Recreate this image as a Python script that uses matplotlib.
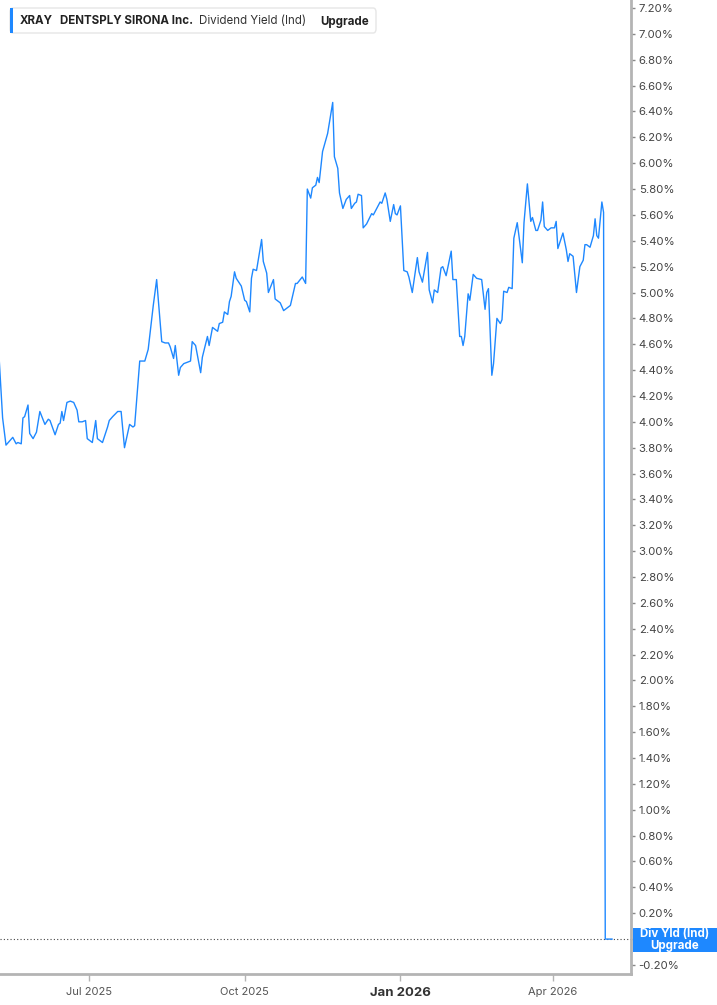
import pandas as pd
import matplotlib.pyplot as plt
import matplotlib.transforms as mtransforms
from matplotlib.patches import FancyBboxPatch, Rectangle
import numpy as np

plt.rcParams['font.family'] = ['Inter', 'DejaVu Sans']

# --- Data: XRAY indicated dividend yield (%) ---
dates = [
    '2025-05-09', '2025-05-11', '2025-05-13', '2025-05-17', '2025-05-19', '2025-05-20',
    '2025-05-22', '2025-05-23', '2025-05-24', '2025-05-26', '2025-05-27', '2025-05-29',
    '2025-05-31', '2025-06-02', '2025-06-05', '2025-06-07', '2025-06-08', '2025-06-11',
    '2025-06-13', '2025-06-14', '2025-06-15', '2025-06-16', '2025-06-18', '2025-06-20',
    '2025-06-22', '2025-06-24', '2025-06-25', '2025-06-27', '2025-06-29', '2025-06-30',
    '2025-07-03', '2025-07-05', '2025-07-06', '2025-07-09', '2025-07-12', '2025-07-13',
    '2025-07-15', '2025-07-18', '2025-07-20', '2025-07-22', '2025-07-25', '2025-07-27',
    '2025-07-28', '2025-07-31', '2025-08-03', '2025-08-05', '2025-08-07', '2025-08-08',
    '2025-08-10', '2025-08-13', '2025-08-15', '2025-08-17', '2025-08-18', '2025-08-20',
    '2025-08-21', '2025-08-23', '2025-08-24', '2025-08-26', '2025-08-30', '2025-08-31',
    '2025-09-02', '2025-09-05', '2025-09-06', '2025-09-09', '2025-09-10', '2025-09-12',
    '2025-09-13', '2025-09-15', '2025-09-16', '2025-09-18', '2025-09-19', '2025-09-21',
    '2025-09-22', '2025-09-23', '2025-09-25', '2025-09-26', '2025-09-29', '2025-10-01',
    '2025-10-02', '2025-10-04', '2025-10-05', '2025-10-06', '2025-10-08', '2025-10-11',
    '2025-10-12', '2025-10-14', '2025-10-15', '2025-10-18', '2025-10-19', '2025-10-22',
    '2025-10-24', '2025-10-26', '2025-10-28', '2025-10-31', '2025-11-01', '2025-11-04',
    '2025-11-06', '2025-11-07', '2025-11-09', '2025-11-10', '2025-11-12', '2025-11-13',
    '2025-11-14', '2025-11-16', '2025-11-19', '2025-11-22', '2025-11-23', '2025-11-25',
    '2025-11-26', '2025-11-28', '2025-11-30', '2025-12-02', '2025-12-03', '2025-12-05',
    '2025-12-06', '2025-12-07', '2025-12-09', '2025-12-10', '2025-12-12', '2025-12-15',
    '2025-12-16', '2025-12-18', '2025-12-20', '2025-12-21', '2025-12-23', '2025-12-24',
    '2025-12-26', '2025-12-28', '2025-12-29', '2025-12-30', '2026-01-01', '2026-01-03',
    '2026-01-05', '2026-01-06', '2026-01-08', '2026-01-11', '2026-01-12', '2026-01-14',
    '2026-01-17', '2026-01-18', '2026-01-20', '2026-01-21', '2026-01-23', '2026-01-25',
    '2026-01-26', '2026-01-28', '2026-01-31', '2026-02-01', '2026-02-03', '2026-02-05',
    '2026-02-06', '2026-02-07', '2026-02-08', '2026-02-10', '2026-02-11', '2026-02-13',
    '2026-02-15', '2026-02-18', '2026-02-20', '2026-02-21', '2026-02-22', '2026-02-24',
    '2026-02-25', '2026-02-27', '2026-03-01', '2026-03-02', '2026-03-03', '2026-03-05',
    '2026-03-06', '2026-03-08', '2026-03-09', '2026-03-11', '2026-03-12', '2026-03-14',
    '2026-03-15', '2026-03-16', '2026-03-17', '2026-03-19', '2026-03-20', '2026-03-22',
    '2026-03-23', '2026-03-25', '2026-03-26', '2026-03-27', '2026-03-29', '2026-03-31',
    '2026-04-02', '2026-04-03', '2026-04-04', '2026-04-07', '2026-04-09', '2026-04-10',
    '2026-04-11', '2026-04-13', '2026-04-15', '2026-04-17', '2026-04-19', '2026-04-20',
    '2026-04-21', '2026-04-23', '2026-04-25', '2026-04-26', '2026-04-27', '2026-04-28',
    '2026-04-30', '2026-05-01', '2026-05-02', '2026-05-06',
]
yield_pct = [
    4.48, 4.03, 3.82, 3.88, 3.83, 3.84,
    3.83, 4.03, 4.04, 4.13, 3.91, 3.87,
    3.92, 4.08, 3.98, 4.02, 4.01, 3.90,
    3.98, 3.99, 4.08, 4.01, 4.15, 4.16,
    4.15, 4.09, 4.00, 4.00, 4.01, 3.87,
    3.84, 4.01, 3.87, 3.84, 3.96, 4.01,
    4.04, 4.08, 4.08, 3.80, 3.98, 3.96,
    3.97, 4.47, 4.47, 4.56, 4.79, 4.90,
    5.10, 4.62, 4.61, 4.61, 4.58, 4.49,
    4.59, 4.36, 4.42, 4.45, 4.47, 4.62,
    4.59, 4.38, 4.50, 4.66, 4.59, 4.73,
    4.72, 4.70, 4.76, 4.77, 4.85, 4.83,
    4.93, 4.97, 5.16, 5.11, 5.05, 4.94,
    4.93, 4.85, 5.11, 5.18, 5.17, 5.41,
    5.24, 5.15, 5.00, 5.10, 4.95, 4.92,
    4.86, 4.88, 4.90, 5.07, 5.07, 5.12,
    5.07, 5.80, 5.73, 5.81, 5.83, 5.89,
    5.85, 6.09, 6.23, 6.47, 6.05, 5.96,
    5.77, 5.65, 5.72, 5.75, 5.65, 5.69,
    5.70, 5.76, 5.75, 5.50, 5.53, 5.61,
    5.60, 5.65, 5.70, 5.69, 5.77, 5.72,
    5.55, 5.68, 5.61, 5.60, 5.67, 5.17,
    5.16, 5.12, 5.00, 5.27, 5.16, 5.08,
    5.31, 5.02, 4.92, 5.02, 5.00, 5.19,
    5.20, 5.13, 5.32, 5.10, 5.10, 4.66,
    4.66, 4.59, 4.66, 4.99, 4.94, 5.14,
    5.11, 5.10, 4.87, 5.00, 5.03, 4.36,
    4.45, 4.80, 4.76, 4.79, 5.01, 5.00,
    5.04, 5.03, 5.42, 5.54, 5.44, 5.23,
    5.54, 5.69, 5.84, 5.55, 5.58, 5.48,
    5.48, 5.56, 5.70, 5.51, 5.48, 5.50,
    5.50, 5.55, 5.34, 5.46, 5.33, 5.24,
    5.30, 5.28, 5.00, 5.20, 5.25, 5.37,
    5.37, 5.35, 5.44, 5.57, 5.44, 5.42,
    5.70, 5.62, 0.00, 0.00,
]
x_ticks = ['2025-07-01', '2025-10-01', '2026-01-01', '2026-04-01']
x_tick_labels = ['Jul 2025', 'Oct 2025', 'Jan 2026', 'Apr 2026']

df = pd.DataFrame({'date': pd.to_datetime(dates), 'yield': yield_pct})

line_color = '#1e88ff'
grey = '#b4b4b4'

# --- Figure ---
fig = plt.figure(figsize=(7.17, 10.05), dpi=100)
ax = fig.add_axes([0, 31 / 1005, 631 / 717, 974 / 1005])

ax.plot(df['date'], df['yield'], color=line_color, lw=1.0, zorder=3)
ax.axhline(0, color='#444444', lw=0.8, ls=(0, (1, 2)), zorder=2)

ax.set_xlim(pd.Timestamp('2025-05-09 11:00'), pd.Timestamp('2026-05-17 05:00'))
ax.set_ylim(-0.27, 7.262)

# y axis on the right (0.00% sits under the last-value box, so it gets no label)
yt = np.round(np.arange(-0.2, 7.21, 0.2), 2)
ax.yaxis.tick_right()
ax.set_yticks(yt)
ax.set_yticklabels(['' if v == 0 else f'{v:.2f}%' for v in yt])
ax.tick_params(axis='y', length=3, width=1, color='#888888', pad=2.5,
               labelsize=8.2, labelcolor='#444444')

ax.set_xticks(pd.to_datetime(x_ticks))
ax.set_xticklabels(x_tick_labels)
ax.tick_params(axis='x', length=5, width=1, color=grey, pad=4,
               labelsize=8, labelcolor='#555555')
for lbl in ax.get_xticklabels():
    if lbl.get_text() == 'Jan 2026':
        lbl.set_fontweight('bold')
        lbl.set_fontsize(9.5)
        lbl.set_color('#333333')

for side in ['left', 'top']:
    ax.spines[side].set_visible(False)
for side in ['right', 'bottom']:
    ax.spines[side].set_color(grey)
    ax.spines[side].set_linewidth(2)

# --- Last value label on the right axis ---
trans = mtransforms.blended_transform_factory(ax.transAxes, ax.transData)
box_h = 24 / 129.3
ax.add_patch(Rectangle((633 / 631, -box_h / 2 - 0.01), 84 / 631, box_h, transform=trans,
                       facecolor=line_color, edgecolor='none', clip_on=False, zorder=10))
ax.text(675 / 631, -0.01, 'Div Yld (Ind)\nUpgrade', transform=trans, ha='center',
        va='center', color='white', fontsize=8.3, fontweight='bold', linespacing=1.0,
        zorder=11, clip_on=False)

# --- Legend box at top ---
def fx(px):
    return px / 717

def fy(px):
    return 1 - px / 1005

fig.patches.append(FancyBboxPatch((fx(10), fy(33)), fx(366), 25 / 1005,
                                  boxstyle='round,pad=0,rounding_size=0.004',
                                  transform=fig.transFigure, facecolor='white',
                                  edgecolor='#e6e6e6', lw=1, zorder=5))
fig.patches.append(Rectangle((fx(10), fy(33)), fx(3), 25 / 1005,
                             transform=fig.transFigure, facecolor=line_color,
                             edgecolor='none', zorder=6))
fs = 8.3
ty = fy(21.5)
fig.text(fx(20), ty, 'XRAY', fontsize=fs, fontweight='bold', color='#222222',
         va='center', ha='left', zorder=7)
fig.text(fx(60), ty, 'DENTSPLY SIRONA Inc.', fontsize=fs, fontweight='bold',
         color='#222222', va='center', ha='left', zorder=7)
fig.text(fx(199), ty, 'Dividend Yield (Ind)', fontsize=fs, color='#333333',
         va='center', ha='left', zorder=7)
fig.text(fx(320), ty, 'Upgrade', fontsize=fs, fontweight='bold', color='#222222',
         va='center', ha='left', zorder=7)

fig.savefig('out.png', dpi=100)
plt.close(fig)
